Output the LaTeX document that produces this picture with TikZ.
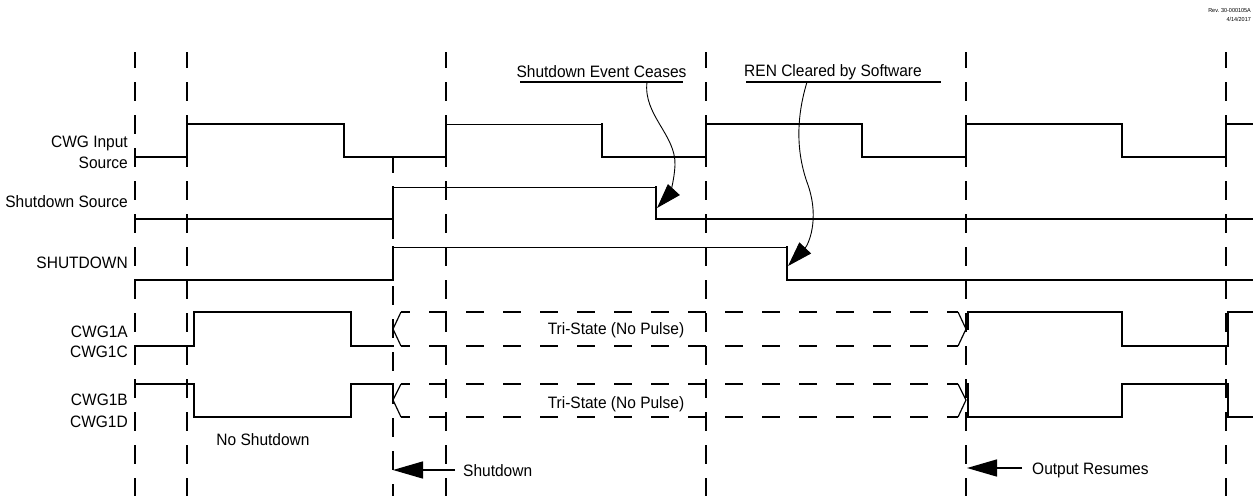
\documentclass[tikz,border=0pt]{standalone}
\usepackage{fontspec}
\setmainfont[FakeStretch=0.94]{Liberation Sans}
\usetikzlibrary{arrows.meta}
\begin{document}
\begin{tikzpicture}[x=1pt,y=-1pt,
  sig/.style={line width=2pt, line join=miter, line cap=rect},
  sigthin/.style={line width=1pt},
  gridline/.style={line width=2pt, dash pattern=on 19pt off 14pt, dash phase=3pt},
  tristate/.style={line width=2pt, dash pattern=on 18pt off 19pt, dash phase=9pt},
  vee/.style={line width=1.2pt},
  lbl/.style={font=\fontsize{16.5}{18}\selectfont, inner sep=0pt},
  tiny/.style={font=\fontsize{5.8}{7}\selectfont, inner sep=0pt},
  uline/.style={line width=1.5pt},
  callout/.style={line width=0.9pt, -{Triangle[length=25pt,width=16pt]}},
  bigarrow/.style={line width=1.5pt, -{Triangle[length=30pt,width=17pt]}},
]
\useasboundingbox (0,0) rectangle (1257,496);

% revision stamp
\node[tiny, anchor=base east] (rev) at (1251,12) {Rev. 30-000105A};
\node[tiny, anchor=base east] (date) at (1251,21) {4/14/2017};

% vertical dashed time lines
\foreach \x in {135,187,446,706,966,1226}
  \draw[gridline] (\x,52) -- (\x,496);
\draw[gridline] (393,157) -- (393,496);

% signal labels
\node[lbl, anchor=base east] (l1) at (128,147) {CWG Input};
\node[lbl, anchor=base east] (l2) at (128,168) {Source};
\node[lbl, anchor=base east] (l3) at (128,207) {Shutdown Source};
\node[lbl, anchor=base east] (l4) at (128,268) {SHUTDOWN};
\node[lbl, anchor=base east] (l5) at (128,337) {CWG1A};
\node[lbl, anchor=base east] (l6) at (128,357) {CWG1C};
\node[lbl, anchor=base east] (l7) at (128,405) {CWG1B};
\node[lbl, anchor=base east] (l8) at (128,427) {CWG1D};

% CWG Input Source
\draw[sig] (135,157) -- (187,157) -- (187,124) -- (344,124) -- (344,157) -- (446,157) -- (446,124);
\draw[sigthin] (446,124) -- (602,124);
\draw[sig] (602,124) -- (602,157) -- (706,157) -- (706,124) -- (862,124) -- (862,157)
  -- (966,157) -- (966,124) -- (1122,124) -- (1122,157) -- (1226,157) -- (1226,124) -- (1252,124);

% Shutdown Source
\draw[sig] (135,219) -- (393,219) -- (393,187);
\draw[sigthin] (393,187) -- (656,187);
\draw[sig] (656,187) -- (656,219) -- (1252,219);

% SHUTDOWN
\draw[sig] (135,280) -- (393,280) -- (393,247);
\draw[sigthin] (393,247) -- (787,247);
\draw[sig] (787,247) -- (787,280) -- (1252,280);

% CWG1A / CWG1C
\draw[sig] (135,346) -- (194,346) -- (194,312) -- (351,312) -- (351,346) -- (393,346);
\draw[vee] (401,312) -- (393,329) -- (401,346);
\draw[tristate] (401,312) -- (958,312);
\draw[tristate] (401,346) -- (958,346);
\draw[vee] (958,312) -- (966,329) -- (958,346);
\draw[sig] (968,329) -- (968,312) -- (1122,312) -- (1122,346) -- (1228,346) -- (1228,312) -- (1252,312);

% CWG1B / CWG1D
\draw[sig] (135,384) -- (194,384) -- (194,417) -- (351,417) -- (351,384) -- (393,384);
\draw[vee] (401,384) -- (393,400) -- (401,417);
\draw[tristate] (401,384) -- (958,384);
\draw[tristate] (401,417) -- (958,417);
\draw[vee] (958,384) -- (966,400) -- (958,417);
\draw[sig] (968,384) -- (968,417) -- (1122,417) -- (1122,384) -- (1228,384) -- (1228,417) -- (1252,417);

% tri-state labels
\node[lbl, anchor=base] (ts1) at (616,334) {Tri-State (No Pulse)};
\node[lbl, anchor=base] (ts2) at (616,408) {Tri-State (No Pulse)};

% callouts
\node[lbl, anchor=base] (ev) at (601.5,77) {Shutdown Event Ceases};
\draw[uline] (520,82) -- (683,82);
\node[lbl, anchor=base] (ren) at (833,76) {REN Cleared by Software};
\draw[uline] (746,82) -- (941,82);

\coordinate (c1s) at (647,82);
\coordinate (c1e) at (657,208);
\draw[callout] (c1s) .. controls (643,115) and (676,135) .. (675,165)
  .. controls (674,185) and (668,196) .. (c1e);
\coordinate (c2s) at (807,82);
\coordinate (c2e) at (788,266);
\draw[callout] (c2s) .. controls (797,115) and (795,150) .. (808,185)
  .. controls (820,220) and (808,245) .. (c2e);

% bottom annotations
\node[lbl, anchor=base] (nosd) at (263,445) {No Shutdown};
\node[lbl, anchor=base west] (sd) at (463,476) {Shutdown};
\coordinate (sdtail) at (455,470);
\coordinate (sdtip) at (393,470);
\draw[bigarrow] (sdtail) -- (sdtip);
\node[lbl, anchor=base west] (outr) at (1032,474) {Output Resumes};
\coordinate (ortail) at (1022,468);
\coordinate (ortip) at (967,468);
\draw[bigarrow] (ortail) -- (ortip);
\end{tikzpicture}
\end{document}
